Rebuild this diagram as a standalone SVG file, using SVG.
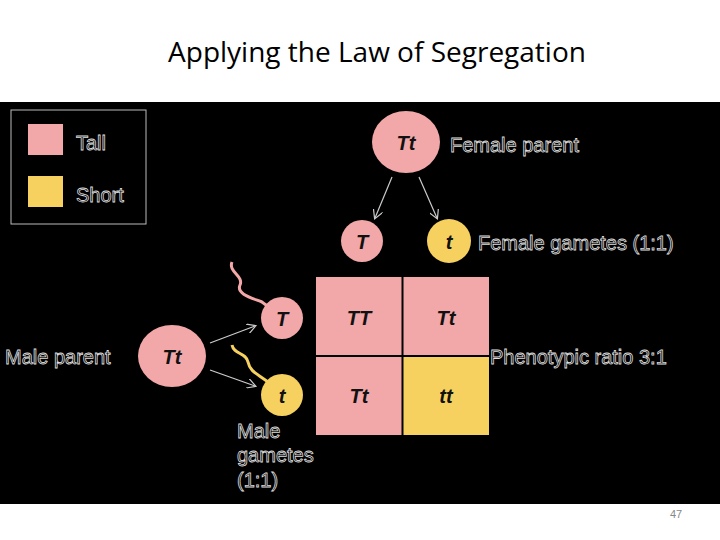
<svg xmlns="http://www.w3.org/2000/svg" width="720" height="540" viewBox="0 0 720 540">
<defs>
<style>
.lbl{font-family:"Liberation Sans",Arial,sans-serif;font-size:20px;fill:#000;stroke:#ddd;stroke-width:0.8}
.g{font-family:"Liberation Sans",Arial,sans-serif;font-size:20px;font-weight:bold;font-style:italic;fill:#111;text-anchor:middle}
.pink{fill:#f2a7a8}
.yel{fill:#f6d15f}
.arr{stroke:#ccc;stroke-width:1.2;fill:none;marker-end:url(#ah)}
</style>
<marker id="ah" markerWidth="10" markerHeight="10" refX="8" refY="5" orient="auto" markerUnits="userSpaceOnUse"><path d="M0,0 L9,5 L0,10" fill="none" stroke="#ccc" stroke-width="1.2"/></marker>
</defs>
<rect width="720" height="540" fill="#fff"/>
<text x="377" y="62" text-anchor="middle" font-family="Open Sans,Liberation Sans,sans-serif" font-size="28" fill="#000">Applying the Law of Segregation</text>
<rect x="0" y="102" width="720" height="402" fill="#000"/>
<g id="legend">
<rect x="11" y="110" width="135" height="114" fill="none" stroke="#bbb" stroke-width="1"/>
<rect x="28" y="124" width="35" height="31" class="pink"/>
<rect x="28" y="176" width="35" height="31" class="yel"/>
<text x="76" y="150" class="lbl">Tall</text>
<text x="76" y="202" class="lbl">Short</text>
</g>
<g id="female-parent"><ellipse cx="406" cy="142" rx="34" ry="31" class="pink"/><text x="406" y="150" class="g">Tt</text><text x="450" y="152" class="lbl">Female parent</text></g>
<g id="female-T"><circle cx="362" cy="241" r="21" class="pink"/><text x="362" y="249" class="g">T</text></g>
<g id="female-t"><circle cx="449" cy="241" r="22" class="yel"/><text x="449" y="249" class="g">t</text><text x="478" y="250" class="lbl">Female gametes (1:1)</text></g>
<g id="male-parent"><ellipse cx="172" cy="356" rx="34" ry="31" class="pink"/><text x="172" y="364" class="g">Tt</text><text x="5" y="364" class="lbl">Male parent</text></g>
<g id="male-T"><path d="M232,262 C228,272 244,276 240,285 C236,294 252,298 262,302 L270,308" stroke="#f2a7a8" stroke-width="3" fill="none"/><circle cx="282" cy="318" r="21" class="pink"/><text x="282" y="326" class="g">T</text></g>
<g id="male-t"><path d="M232,345 C234,355 246,352 248,362 C250,372 258,374 268,382" stroke="#f6d15f" stroke-width="3" fill="none"/><circle cx="282" cy="395" r="21" class="yel"/><text x="282" y="403" class="g">t</text>
<text class="lbl"><tspan x="237" y="438">Male</tspan><tspan x="237" y="462">gametes</tspan><tspan x="237" y="487">(1:1)</tspan></text></g>
<g id="punnett">
<rect x="316" y="277" width="86" height="78" class="pink"/>
<rect x="403" y="277" width="86" height="78" class="pink"/>
<rect x="316" y="357" width="86" height="78" class="pink"/>
<rect x="403" y="357" width="86" height="78" class="yel"/>
<line x1="402.5" y1="277" x2="402.5" y2="435" stroke="#000" stroke-width="2"/>
<line x1="316" y1="356" x2="489" y2="356" stroke="#000" stroke-width="2"/>
<text x="359" y="325" class="g">TT</text><text x="446" y="325" class="g">Tt</text>
<text x="359" y="403" class="g">Tt</text><text x="446" y="403" class="g">tt</text>
<text x="490" y="364" class="lbl">Phenotypic ratio 3:1</text>
</g>
<g id="connectors">
<path d="M392,177 L375,218" class="arr"/>
<path d="M419,177 L437,218" class="arr"/>
<path d="M210,343 L255,326" class="arr"/>
<path d="M210,370 L255,386" class="arr"/>
</g>
<text x="670" y="518" font-family="Liberation Sans,sans-serif" font-size="11" fill="#888">47</text>
</svg>
